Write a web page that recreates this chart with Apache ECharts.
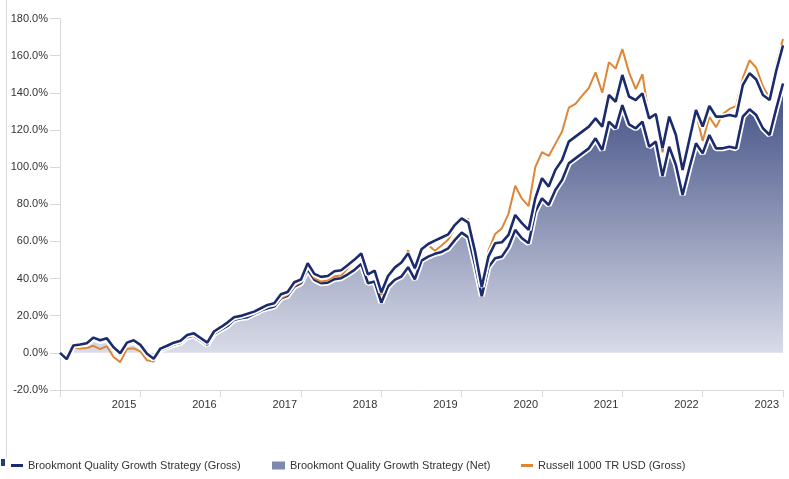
<!DOCTYPE html>
<html><head><meta charset="utf-8">
<script src="https://cdn.jsdelivr.net/npm/echarts@6.0.0/dist/echarts.min.js"></script>
<style>html,body{margin:0;padding:0;background:#fff}#chart{width:789px;height:479px}</style>
</head><body><div id="chart"></div>
<script>
// Monthly data: Dec 2014 .. Dec 2023 (cumulative return, %)
const startYear = 2014, startMonth = 12, monthCount = 109;
const yearLabels = ['2015','2016','2017','2018','2019','2020','2021','2022','2023'];

const grossValues = [
0, -3.4, 4.0, 4.5, 5.2, 8.2, 6.8, 7.8, 3.0, -0.2, 5.5, 6.8, 4.3, -0.5, -3.2, 2.3, 3.8, 5.5, 6.5, 9.6, 10.5, 8.0, 5.5, 11.5, 13.8,
16.3, 19.2, 19.9, 21.0, 22.2, 24.0, 25.8, 26.7, 31.5, 32.8, 38.0, 39.5,
48.2, 42.5, 40.9, 41.4, 43.9, 44.5, 47.3, 50.2, 53.5, 42.2, 44.3, 32.5,
41.4, 45.9, 48.6, 53.6, 45.5, 55.8, 58.6, 60.4, 62.1, 63.8, 68.9, 72.4,
70.1, 54.5, 35.5, 51.8, 59.0, 59.5, 63.5, 74.2, 69.8, 66.2, 83.2, 94.0,
89.5, 98.5, 103.8, 113.7, 116.4, 119.1, 121.8, 126.2, 121.8, 138.8, 135.2, 149.6,
138.0, 136.1, 139.7, 126.2, 128.6, 110.1, 127.2, 117.3, 98.5, 114.6, 130.7, 121.8,
132.9, 127.2, 127.2, 128.0, 127.2, 144.2, 150.5, 147.2, 138.8, 136.1, 152.0, 165.5
];
const netValues = [
0, -3.5, 3.8, 4.2, 4.8, 7.8, 6.3, 7.2, 2.4, -0.8, 4.8, 6.0, 3.5, -1.3, -4.0, 1.4, 2.9, 4.5, 5.4, 8.4, 9.3, 6.8, 4.4, 10.2, 12.4,
14.5, 17.8, 18.7, 19.2, 21.0, 22.8, 24.0, 24.9, 29.4, 30.7, 35.7, 37.5,
45.0, 39.3, 37.5, 37.8, 39.7, 40.2, 42.3, 44.7, 47.9, 37.5, 38.4, 27.0,
35.7, 39.3, 41.1, 46.1, 39.6, 49.7, 51.8, 53.3, 54.3, 56.3, 60.8, 64.7,
62.2, 47.3, 30.5, 46.1, 50.9, 51.8, 57.2, 66.2, 61.7, 59.0, 76.0, 83.2,
79.6, 87.7, 93.1, 102.0, 104.7, 107.4, 110.1, 115.5, 109.2, 124.5, 120.9, 133.4,
123.0, 120.9, 124.5, 111.0, 113.7, 95.2, 111.0, 101.1, 85.0, 99.4, 112.8, 107.4,
117.3, 110.1, 110.1, 111.0, 110.1, 127.2, 131.1, 128.0, 120.9, 117.3, 131.6, 145.0
];
const russellValues = [
0, -2.8, 2.8, 2.3, 2.6, 3.8, 2.0, 3.6, -2.2, -5.0, 2.2, 2.4, 0.8, -4.0, -4.6, 1.8, 2.8, 4.6, 5.2, 9.0, 9.2, 8.6, 6.4, 10.4, 12.5,
15.5, 18.8, 19.3, 20.5, 21.8, 22.8, 25.0, 25.5, 29.5, 31.2, 36.0, 38.0,
46.2, 40.2, 38.4, 39.0, 41.2, 41.6, 45.5, 49.3, 52.8, 41.6, 43.2, 31.2,
40.9, 45.5, 48.0, 55.2, 45.0, 56.0, 58.0, 55.0, 57.8, 61.0, 67.5, 72.4,
72.0, 57.5, 36.8, 55.0, 64.0, 67.0, 75.0, 90.0, 83.0, 79.0, 100.0, 108.0,
106.0, 112.5, 119.2, 132.0, 134.0, 138.5, 142.6, 151.0, 140.0, 156.5, 153.0, 163.5,
151.0, 142.0, 150.0, 127.0, 128.0, 108.0, 126.5, 119.0, 102.0, 115.5, 129.0, 114.0,
127.0, 121.5, 128.5, 131.3, 133.0, 148.0, 157.5, 153.5, 143.5, 137.0, 156.0, 169.0
];
const GROSS = 'Brookmont Quality Growth Strategy (Gross)';
const NET = 'Brookmont Quality Growth Strategy (Net)';
const RUSSELL = 'Russell 1000 TR USD (Gross)';

const months = [];
for (let i = 0; i < monthCount; i++) {
  const k = startMonth - 1 + i;
  months.push((startYear + Math.floor(k / 12)) + '-' + String(k % 12 + 1).padStart(2, '0'));
}

const FONT = "'Liberation Sans', Arial, sans-serif";
const navy = '#1b2b6c', orange = '#dd8636', axisGray = '#d9d9d9';

const chart = echarts.init(document.getElementById('chart'), null, {renderer: 'canvas'});
const legendBase = {
  orient: 'horizontal', top: 460, padding: 0, itemWidth: 12, selectedMode: false,
  textStyle: {fontSize: 11, color: '#333', fontFamily: FONT}
};
chart.setOption({
  animation: false,
  backgroundColor: '#fff',
  grid: {left: 60, right: 6, top: 18.5, bottom: 89, containLabel: false},
  xAxis: {
    type: 'category', data: months, boundaryGap: false,
    axisLine: {show: true, onZero: false, lineStyle: {color: axisGray, width: 1}},
    axisTick: {show: true, length: 7, interval: (i) => i % 12 === 0, lineStyle: {color: axisGray}},
    axisLabel: {
      interval: (i) => i > 0 && i % 12 === 0,
      formatter: (v, i) => yearLabels[i / 12 - 1],
      align: 'right', padding: [0, 4, 0, 0], margin: 9,
      fontSize: 11, color: '#333', fontFamily: FONT
    },
    splitLine: {show: false}
  },
  yAxis: {
    type: 'value', min: -20, max: 180, interval: 20,
    axisLine: {show: true, lineStyle: {color: axisGray, width: 1}},
    axisTick: {show: true, length: 10, lineStyle: {color: axisGray}},
    axisLabel: {formatter: (v) => v.toFixed(1) + '%', margin: 12, fontSize: 11, color: '#333', fontFamily: FONT},
    splitLine: {show: false}
  },
  legend: [
    Object.assign({}, legendBase, {left: 11, itemHeight: 3,
      data: [{name: GROSS, icon: 'rect', itemStyle: {color: navy, borderWidth: 0}}]}),
    Object.assign({}, legendBase, {left: 272, itemHeight: 8, itemWidth: 13,
      data: [{name: NET, icon: 'rect', itemStyle: {color: '#7f89ae', borderWidth: 0}}]}),
    Object.assign({}, legendBase, {left: 521, itemHeight: 3,
      data: [{name: RUSSELL, icon: 'rect', itemStyle: {color: orange, borderWidth: 0}}]})
  ],
  graphic: [
    {type: 'line', shape: {x1: 6.5, y1: 0, x2: 6.5, y2: 458}, style: {stroke: '#dcdcdc', lineWidth: 1}, silent: true},
    {type: 'rect', shape: {x: 1, y: 459, width: 4, height: 7}, style: {fill: '#1f3f7a'}, silent: true}
  ],
  series: [
    {name: NET, type: 'line', data: netValues, symbol: 'none', z: 1,
      itemStyle: {color: '#7f89ae'},
      lineStyle: {width: 0, opacity: 0},
      areaStyle: {opacity: 1, color: new echarts.graphic.LinearGradient(0, 0, 0, 1, [
        {offset: 0, color: '#3f4c82'}, {offset: 1, color: '#dde0eb'}])}},
    {name: 'net-halo', type: 'line', data: netValues, symbol: 'none', silent: true, z: 2,
      lineStyle: {color: '#ffffff', width: 6}},
    {name: 'net-line', type: 'line', data: netValues, symbol: 'none', silent: true, z: 3,
      lineStyle: {color: navy, width: 2.6}},
    {name: RUSSELL, type: 'line', data: russellValues, symbol: 'none', z: 4,
      itemStyle: {color: orange}, lineStyle: {color: orange, width: 2}},
    {name: 'gross-halo', type: 'line', data: grossValues, symbol: 'none', silent: true, z: 5,
      lineStyle: {color: '#ffffff', width: 6}},
    {name: GROSS, type: 'line', data: grossValues, symbol: 'none', z: 6,
      itemStyle: {color: navy}, lineStyle: {color: navy, width: 2.6}}
  ]
});
</script></body></html>
